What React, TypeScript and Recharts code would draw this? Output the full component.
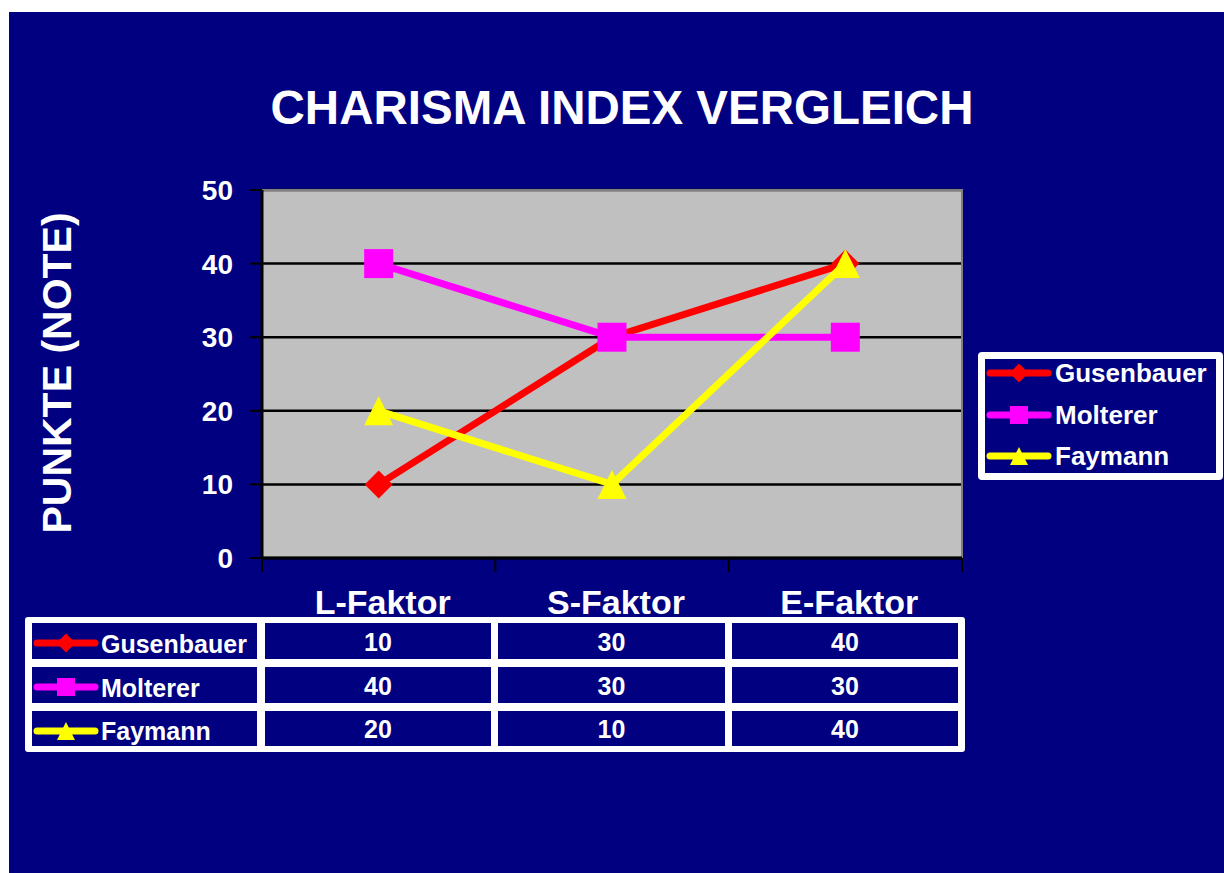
import React from "react";
import {
  CartesianGrid,
  Line,
  LineChart,
  ReferenceArea,
  XAxis,
  YAxis,
} from "recharts";

const categories = ["L-Faktor", "S-Faktor", "E-Faktor"];
const gusenbauer = [10, 30, 40];
const molterer = [40, 30, 30];
const faymann = [20, 10, 40];
const yTicks = [0, 10, 20, 30, 40, 50];

type Shape = "diamond" | "square" | "triangle";

const series: { name: string; values: number[]; color: string; shape: Shape }[] = [
  { name: "Gusenbauer", values: gusenbauer, color: "#FF0000", shape: "diamond" },
  { name: "Molterer", values: molterer, color: "#FF00FF", shape: "square" },
  { name: "Faymann", values: faymann, color: "#FFFF00", shape: "triangle" },
];

const data = categories.map((name, i) => {
  const row: Record<string, string | number> = { name };
  series.forEach((s) => {
    row[s.name] = s.values[i];
  });
  return row;
});

const NAVY = "#000080";
const FONT = "'Liberation Sans', Arial, sans-serif";
const PLOT_W = 700;
const BAND = PLOT_W / categories.length;

function marker(shape: Shape, cx: number, cy: number, size: number, fill: string, key?: string) {
  const s = size / 2;
  if (shape === "diamond") {
    return (
      <polygon
        key={key}
        points={`${cx},${cy - s} ${cx + s},${cy} ${cx},${cy + s} ${cx - s},${cy}`}
        fill={fill}
      />
    );
  }
  if (shape === "square") {
    return <rect key={key} x={cx - s} y={cy - s} width={size} height={size} fill={fill} />;
  }
  return (
    <polygon
      key={key}
      points={`${cx},${cy - s} ${cx + s},${cy + s} ${cx - s},${cy + s}`}
      fill={fill}
    />
  );
}

const chartSizes: Record<Shape, number> = { diamond: 28, square: 29, triangle: 29 };
const keySizes: Record<Shape, number> = { diamond: 19, square: 18, triangle: 18 };

function KeySwatch({ color, shape }: { color: string; shape: Shape }) {
  return (
    <svg width={66} height={30} style={{ display: "block" }}>
      <line x1={4} y1={15} x2={62} y2={15} stroke={color} strokeWidth={7} strokeLinecap="round" />
      {marker(shape, 33, 15, keySizes[shape], color)}
    </svg>
  );
}

function CategoryTick(props: any) {
  const { x, y, payload, index } = props;
  const left = x - BAND / 2;
  return (
    <g>
      <line x1={left} y1={y} x2={left} y2={y + 14} stroke="#000" strokeWidth={2} />
      {index === categories.length - 1 && (
        <line x1={x + BAND / 2} y1={y} x2={x + BAND / 2} y2={y + 14} stroke="#000" strokeWidth={2} />
      )}
      <text
        x={x + 4}
        y={y + 56}
        textAnchor="middle"
        fill="#fff"
        fontSize={34}
        fontWeight="bold"
        fontFamily={FONT}
      >
        {payload.value}
      </text>
    </g>
  );
}

// table cell boxes: first column holds the series key, then one per category
const colBoxes = [
  [32, 225],
  [265, 226],
  [498, 227],
  [732, 226],
];
const rowBoxes = [
  [623, 36],
  [667, 36],
  [711, 35],
];

export default function App() {
  return (
    <div style={{ position: "absolute", left: 0, top: 0, width: 1224, height: 873, fontFamily: FONT }}>
      <div style={{ position: "absolute", left: 9, top: 12, width: 1215, height: 861, background: NAVY }} />

      <div
        style={{
          position: "absolute",
          left: 22,
          top: 84,
          width: 1200,
          textAlign: "center",
          color: "#fff",
          fontSize: 47.5,
          lineHeight: "47px",
          fontWeight: "bold",
        }}
      >
        CHARISMA INDEX VERGLEICH
      </div>

      <div
        style={{
          position: "absolute",
          left: 57 - 200,
          top: 373 - 20,
          width: 400,
          height: 40,
          lineHeight: "40px",
          textAlign: "center",
          color: "#fff",
          fontSize: 41,
          fontWeight: "bold",
          transform: "rotate(-90deg)",
          whiteSpace: "nowrap",
        }}
      >
        PUNKTE (NOTE)
      </div>

      <div style={{ position: "absolute", left: 0, top: 0 }}>
        <LineChart
          width={1224}
          height={873}
          data={data}
          margin={{ top: 190, left: 202, right: 262, bottom: 255 }}
        >
          <CartesianGrid
            vertical={false}
            fill="#C0C0C0"
            fillOpacity={1}
            stroke="#000"
            strokeWidth={2.5}
          />
          <ReferenceArea y1={0} y2={50} fill="none" stroke="#808080" strokeWidth={2} />
          <XAxis
            dataKey="name"
            scale="band"
            height={60}
            tickSize={0}
            tickMargin={0}
            tick={<CategoryTick />}
            axisLine={{ stroke: "#000", strokeWidth: 3 }}
            tickLine={false}
            interval={0}
          />
          <YAxis
            width={60}
            domain={[0, 50]}
            ticks={yTicks}
            tickSize={12}
            tickMargin={17}
            axisLine={{ stroke: "#000", strokeWidth: 3 }}
            tickLine={{ stroke: "#000", strokeWidth: 2 }}
            tick={{ fill: "#fff", fontSize: 28, fontWeight: "bold", fontFamily: FONT }}
          />
          {series.map((s) => (
            <Line
              key={s.name}
              type="linear"
              dataKey={s.name}
              stroke={s.color}
              strokeWidth={7}
              isAnimationActive={false}
              activeDot={false}
              dot={(p: any) => marker(s.shape, p.cx, p.cy, chartSizes[s.shape], s.color, `${s.name}-${p.index}`)}
            />
          ))}
        </LineChart>
      </div>

      {/* legend */}
      <div
        style={{
          position: "absolute",
          left: 978,
          top: 352,
          width: 245,
          height: 128,
          boxSizing: "border-box",
          border: "7px solid #fff",
          borderRadius: 4,
          background: NAVY,
        }}
      />
      {series.map((s, i) => (
        <div
          key={s.name}
          style={{
            position: "absolute",
            left: 986,
            top: 373 + i * 41.5 - 15,
            height: 30,
            display: "flex",
            alignItems: "center",
          }}
        >
          <KeySwatch color={s.color} shape={s.shape} />
          <span style={{ color: "#fff", fontSize: 26, fontWeight: "bold", marginLeft: 3, lineHeight: "30px" }}>
            {s.name}
          </span>
        </div>
      ))}

      {/* data table */}
      <div
        style={{
          position: "absolute",
          left: 25,
          top: 617,
          width: 940,
          height: 135,
          background: "#fff",
          borderRadius: 3,
        }}
      />
      {series.map((s, r) => (
        <React.Fragment key={s.name}>
          <div
            style={{
              position: "absolute",
              left: colBoxes[0][0],
              top: rowBoxes[r][0],
              width: colBoxes[0][1],
              height: rowBoxes[r][1],
              background: NAVY,
              display: "flex",
              alignItems: "center",
            }}
          >
            <div style={{ marginLeft: 1, marginTop: 4 }}>
              <KeySwatch color={s.color} shape={s.shape} />
            </div>
            <span style={{ color: "#fff", fontSize: 25, fontWeight: "bold", marginLeft: 2, marginTop: 6 }}>
              {s.name}
            </span>
          </div>
          {s.values.map((v, c) => (
            <div
              key={c}
              style={{
                position: "absolute",
                left: colBoxes[c + 1][0],
                top: rowBoxes[r][0],
                width: colBoxes[c + 1][1],
                height: rowBoxes[r][1],
                background: NAVY,
                color: "#fff",
                fontSize: 25,
                fontWeight: "bold",
                textAlign: "center",
                lineHeight: `${rowBoxes[r][1] + 2}px`,
              }}
            >
              {v}
            </div>
          ))}
        </React.Fragment>
      ))}
    </div>
  );
}
